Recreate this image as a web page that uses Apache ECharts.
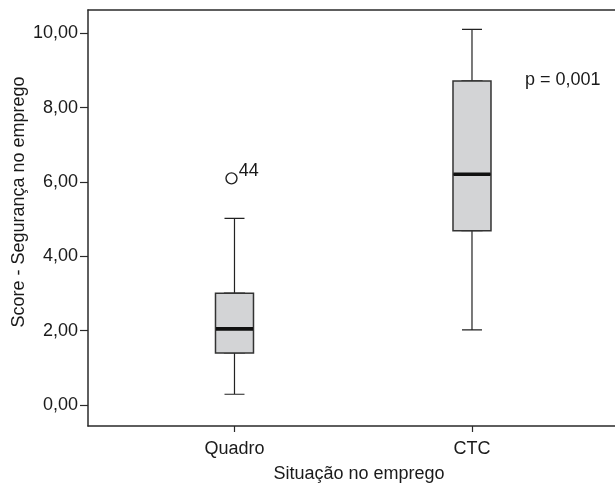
<!DOCTYPE html>
<html>
<head>
<meta charset="utf-8">
<script src="https://cdn.jsdelivr.net/npm/echarts@6/dist/echarts.min.js"></script>
<style>html,body{margin:0;padding:0;background:#fff;}#chart{width:615px;height:485px;}</style>
</head>
<body>
<div id="chart"></div>
<script>
// ---- data ----
const categories = ['Quadro', 'CTC'];
const boxMin = [0.29, 2.02];
const boxQ1 = [1.40, 4.69];
const boxMedian = [2.05, 6.21];
const boxQ3 = [3.01, 8.72];
const boxMax = [5.02, 10.11];
const outlierCategory = [0];
const outlierValue = [6.10];
const outlierLabel = ['44'];
const yTicks = [0, 2, 4, 6, 8, 10];
const pText = 'p = 0,001';
const xTitle = 'Situação no emprego';
const yTitle = 'Score - Segurança no emprego';

const FONT = "'Liberation Sans', Arial, sans-serif";
const FS = 18;
const TXT = '#1a1a1a';
const LINE = '#2a2a2a';

const pos = i => i + 1; // category position on x value axis
const whiskerData = categories.map((c, i) => [pos(i), boxMin[i], boxQ1[i], boxMedian[i], boxQ3[i], boxMax[i]]);
const boxData = categories.map((c, i) => [pos(i), boxQ1[i], boxQ1[i], boxMedian[i], boxQ3[i], boxQ3[i]]);
const medData = categories.map((c, i) => [pos(i), boxMedian[i], boxMedian[i], boxMedian[i], boxMedian[i], boxMedian[i]]);
const outData = outlierCategory.map((ci, k) => ({ value: [pos(ci), outlierValue[k]], label: outlierLabel[k] }));

const xMin = 0.3832, xMax = 2.6653;
const hiddenX = { type: 'value', min: xMin, max: xMax, show: false, gridIndex: 0 };

const chart = echarts.init(document.getElementById('chart'), null, { renderer: 'canvas' });
chart.setOption({
  animation: false,
  backgroundColor: '#fff',
  grid: { left: 88, top: 10, right: -15, bottom: 59, outerBoundsMode: 'none', containLabel: false, show: false },
  xAxis: [
    {
      type: 'value', min: xMin, max: xMax, position: 'bottom',
      name: xTitle, nameLocation: 'middle', nameGap: 39, nameMoveOverlap: false,
      nameTextStyle: { fontFamily: FONT, fontSize: FS, color: TXT },
      axisLine: { show: true, onZero: false, lineStyle: { color: LINE, width: 1.5 } },
      axisTick: { show: true, length: 6, customValues: categories.map((c, i) => pos(i)), lineStyle: { color: LINE, width: 1.2 } },
      axisLabel: { customValues: categories.map((c, i) => pos(i)), formatter: v => categories[Math.round(v) - 1] || '', margin: 14, fontFamily: FONT, fontSize: FS, color: TXT },
      splitLine: { show: false }
    },
    hiddenX, hiddenX,
    {
      type: 'value', min: xMin, max: xMax, position: 'top',
      axisLine: { show: true, onZero: false, lineStyle: { color: LINE, width: 1.5 } },
      axisTick: { show: false }, axisLabel: { show: false }, splitLine: { show: false }
    }
  ],
  yAxis: {
    type: 'value', min: -0.565, max: 10.63,
    name: yTitle, nameLocation: 'middle', nameGap: 60, nameMoveOverlap: false,
    nameTextStyle: { fontFamily: FONT, fontSize: FS, color: TXT, padding: [0, 0, 0, 32] },
    axisLine: { show: true, onZero: false, lineStyle: { color: LINE, width: 1.5 } },
    axisTick: { show: true, length: 8, customValues: yTicks, lineStyle: { color: LINE, width: 1.2 } },
    axisLabel: { customValues: yTicks, formatter: v => v.toFixed(2).replace('.', ','), margin: 10, fontFamily: FONT, fontSize: FS, color: TXT },
    splitLine: { show: false }
  },
  series: [
    {
      type: 'boxplot', xAxisIndex: 0, boxWidth: [20, 20], data: whiskerData,
      itemStyle: { color: '#d3d4d6', borderColor: '#222', borderWidth: 1.2 },
      emphasis: { disabled: true }, silent: true
    },
    {
      type: 'boxplot', xAxisIndex: 1, boxWidth: [38, 38], data: boxData,
      itemStyle: { color: '#d3d4d6', borderColor: '#333', borderWidth: 1.5 },
      emphasis: { disabled: true }, silent: true
    },
    {
      type: 'boxplot', xAxisIndex: 2, boxWidth: [37, 37], data: medData,
      itemStyle: { color: '#111', borderColor: '#111', borderWidth: 3.6 },
      emphasis: { disabled: true }, silent: true
    },
    {
      type: 'scatter', xAxisIndex: 0, data: outData, symbol: 'circle', symbolSize: 11, symbolOffset: [-3, 0],
      itemStyle: { color: '#fff', borderColor: '#222', borderWidth: 1.4, opacity: 1 },
      label: { show: true, position: 'right', distance: 0, offset: [1, -7], formatter: p => p.data.label, fontFamily: FONT, fontSize: FS, color: TXT },
      emphasis: { disabled: true }, silent: true
    }
  ],
  graphic: [
    { type: 'text', left: 525, top: 71, style: { text: pText, fontFamily: FONT, fontSize: FS, fill: TXT } }
  ]
});
</script>
</body>
</html>
